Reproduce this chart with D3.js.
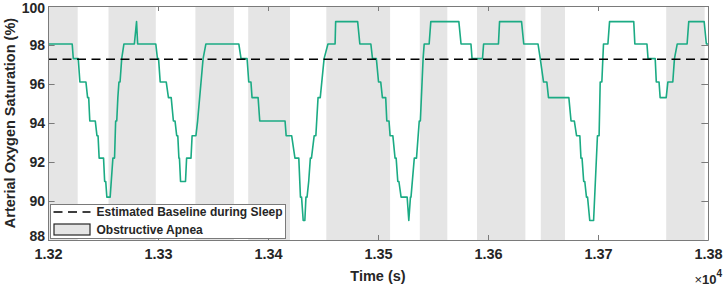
<!DOCTYPE html>
<html>
<head>
<meta charset="utf-8">
<script src="https://cdn.jsdelivr.net/npm/d3@7"></script>
<style>
  html, body { margin: 0; padding: 0; background: #fff; }
  svg text { font-family: "Liberation Sans", Arial, sans-serif; font-weight: bold; fill: #262626; }
</style>
</head>
<body>
<div id="chart"></div>
<script>
// SpO2 trace (time in s, saturation in %)
const spo2Time = [
  13200, 13222, 13223, 13227.5, 13229, 13234.5, 13236, 13237, 13238, 13243,
  13244.5, 13245.5, 13246.5, 13250.5, 13251.5, 13252.5, 13253.5, 13256.5, 13259, 13260.5,
  13261.5, 13262.5, 13263.5, 13264.5, 13265.5, 13267, 13269, 13278.5, 13280.5, 13281.5,
  13298, 13299.5, 13300.5, 13302, 13307.5, 13309.5, 13312, 13314, 13315.5, 13317,
  13318, 13319, 13319.5, 13320.5, 13325, 13326, 13330, 13331, 13334.5, 13336,
  13341, 13343.5, 13373.5, 13375.5, 13381, 13382.5, 13384.5, 13385.5, 13391, 13392.5,
  13415.5, 13416.5, 13421.5, 13424.5, 13428, 13429.5, 13430.5, 13432, 13433.5, 13434.5,
  13435.5, 13437, 13438.5, 13439.5, 13442, 13443.5, 13445.5, 13447.5, 13451, 13454.5,
  13461, 13461.5, 13481.5, 13483.5, 13493.5, 13495, 13498.5, 13500.5, 13502.5, 13504,
  13507, 13508, 13510, 13511, 13513.5, 13515.5, 13516.5, 13518, 13519, 13521,
  13526.5, 13528, 13529.5, 13530, 13533, 13535, 13537.5, 13538.5, 13541, 13542,
  13546.5, 13548, 13573.5, 13575.5, 13584.5, 13585.5, 13595, 13596, 13609.5, 13610.5,
  13630.5, 13632.5, 13645.5, 13647.5, 13650.5, 13653.5, 13655, 13673.5, 13675.5, 13678.5,
  13680.5, 13683.5, 13684.5, 13685.5, 13687, 13688, 13689.5, 13690.5, 13692.5, 13696,
  13699.5, 13701, 13702, 13703.5, 13705, 13709, 13710.5, 13732.5, 13733.5, 13744.5,
  13745.5, 13752, 13753, 13755.5, 13756.5, 13762, 13763.5, 13768, 13769.5, 13772,
  13781, 13782.5, 13796.5, 13798.5, 13800
]
const spo2Value = [
  98.05, 98.05, 97.3, 97.3, 96.1, 96.1, 95.3, 95.3, 94.1, 94.1,
  93.35, 93.35, 92.2, 92.2, 91.0, 91.0, 90.2, 90.2, 92.2, 92.2,
  94.1, 94.1, 95.3, 96.1, 96.1, 97.3, 98.05, 98.05, 99.2, 98.05,
  98.05, 97.3, 97.3, 96.1, 96.1, 95.3, 95.3, 94.1, 94.1, 93.35,
  93.35, 92.2, 92.2, 91.0, 91.0, 92.2, 92.2, 93.35, 93.35, 94.1,
  97.3, 98.05, 98.05, 97.3, 97.3, 96.1, 96.1, 95.3, 95.3, 94.1,
  94.1, 93.35, 93.35, 92.2, 92.2, 90.2, 90.2, 89.0, 89.0, 90.2,
  90.2, 91.0, 92.2, 92.2, 93.35, 93.35, 95.3, 95.3, 97.3, 98.05,
  98.05, 99.2, 99.2, 98.05, 98.05, 97.3, 97.3, 96.1, 96.1, 95.3,
  95.3, 94.1, 94.1, 93.35, 93.35, 92.2, 92.2, 91.0, 91.0, 90.2,
  90.2, 89.0, 90.2, 90.2, 92.2, 92.2, 94.1, 94.1, 97.3, 98.05,
  98.05, 99.2, 99.2, 98.05, 98.05, 97.3, 97.3, 98.05, 98.05, 99.2,
  99.2, 98.05, 98.05, 97.3, 96.1, 96.1, 95.3, 95.3, 94.1, 94.1,
  93.35, 93.35, 92.2, 92.2, 91.0, 91.0, 90.2, 90.2, 89.0, 89.0,
  93.35, 93.35, 96.1, 96.1, 98.05, 98.05, 99.2, 99.2, 98.05, 98.05,
  97.3, 97.3, 96.1, 96.1, 95.3, 95.3, 96.1, 96.1, 97.3, 98.05,
  98.05, 99.2, 99.2, 98.05, 98.05
]

// obstructive apnea events [start, end] in s
const apneaStart = [13200, 13255, 13334, 13382, 13453, 13538, 13590, 13648, 13762]
const apneaEnd = [13227, 13298, 13369, 13420, 13511, 13563, 13634, 13670, 13797]

const baseline = 97.27

const xTicks = [13200, 13300, 13400, 13500, 13600, 13700, 13800]
const yTicks = [88, 90, 92, 94, 96, 98, 100]

const legendLabels = ['Estimated Baseline during Sleep', 'Obstructive Apnea']

const W = 724
const H = 286
const margin = { left: 48, right: 16, top: 6, bottom: 46 }
const axisColor = '#7a7a7a'
const lineColor = '#1bab84'
const apneaColor = '#e5e5e5'

const svg = d3
  .select('#chart')
  .append('svg')
  .attr('width', W)
  .attr('height', H)
  .attr('viewBox', [0, 0, W, H])

const x = d3
  .scaleLinear()
  .domain([13200, 13800])
  .range([margin.left, W - margin.right])

const y = d3
  .scaleLinear()
  .domain([88, 100])
  .range([H - margin.bottom, margin.top])

const apnea = apneaStart.map((s, i) => ({ start: s, end: apneaEnd[i] }))
const trace = spo2Time.map((t, i) => ({ t, v: spo2Value[i] }))

// shaded apnea events
svg
  .append('g')
  .selectAll('rect')
  .data(apnea)
  .join('rect')
  .attr('x', (d) => x(d.start))
  .attr('width', (d) => x(d.end) - x(d.start))
  .attr('y', y(100))
  .attr('height', y(88) - y(100))
  .attr('fill', apneaColor)

// SpO2 line
svg
  .append('path')
  .datum(trace)
  .attr('fill', 'none')
  .attr('stroke', lineColor)
  .attr('stroke-width', 1.6)
  .attr('stroke-linejoin', 'round')
  .attr(
    'd',
    d3
      .line()
      .x((d) => x(d.t))
      .y((d) => y(d.v))
  )

// baseline
svg
  .append('line')
  .attr('x1', x(13200))
  .attr('x2', x(13800))
  .attr('y1', y(baseline))
  .attr('y2', y(baseline))
  .attr('stroke', '#000')
  .attr('stroke-width', 1.6)
  .attr('stroke-dasharray', '9,5.5')

// axes (box with inward ticks on all sides)
const styleAxis = (g) => {
  g.select('.domain').attr('stroke', axisColor)
  g.selectAll('.tick line').attr('stroke', axisColor)
}

svg
  .append('g')
  .attr('transform', `translate(0,${y(88)})`)
  .call(
    d3
      .axisBottom(x)
      .tickValues(xTicks)
      .tickSize(-5)
      .tickSizeOuter(0)
      .tickPadding(9)
      .tickFormat((d) => (d / 1e4).toFixed(2))
  )
  .call(styleAxis)
  .call((g) => g.selectAll('text').attr('font-size', 14.5).attr('dy', '0.71em'))

svg
  .append('g')
  .attr('transform', `translate(0,${y(100)})`)
  .call(d3.axisTop(x).tickValues(xTicks).tickSize(-5).tickSizeOuter(0).tickFormat(''))
  .call(styleAxis)

// end labels sit a little inside the axis, as in the original figure
svg
  .append('g')
  .attr('transform', `translate(${x(13200)},0)`)
  .call(d3.axisLeft(y).tickValues(yTicks).tickSize(-6.6).tickSizeOuter(0).tickPadding(3))
  .call(styleAxis)
  .call((g) =>
    g
      .selectAll('text')
      .attr('font-size', 14)
      .attr('dy', (d) => (d === 88 ? '0.05em' : d === 100 ? '0.45em' : '0.35em'))
  )

svg
  .append('g')
  .attr('transform', `translate(${x(13800)},0)`)
  .call(d3.axisRight(y).tickValues(yTicks).tickSize(-6.6).tickSizeOuter(0).tickFormat(''))
  .call(styleAxis)

// axis labels
svg
  .append('text')
  .attr('x', (x(13200) + x(13800)) / 2)
  .attr('y', 281)
  .attr('text-anchor', 'middle')
  .attr('font-size', 14.5)
  .text('Time (s)')

svg
  .append('text')
  .attr('transform', `translate(15,${(y(88) + y(100)) / 2}) rotate(-90)`)
  .attr('text-anchor', 'middle')
  .attr('font-size', 14.5)
  .text('Arterial Oxygen Saturation (%)')

const expo = svg.append('text').attr('x', 722).attr('y', 284).attr('text-anchor', 'end')
expo.append('tspan').attr('font-size', 13).attr('font-weight', 'normal').text('\u00d7')
expo.append('tspan').attr('font-size', 13).text('10')
expo.append('tspan').attr('font-size', 10).attr('dy', -7).text('4')

// legend
const legend = svg.append('g').attr('transform', 'translate(50.5,204.5)')
legend
  .append('rect')
  .attr('width', 235)
  .attr('height', 34)
  .attr('fill', '#fff')
  .attr('stroke', axisColor)

const rows = legend
  .selectAll('g.row')
  .data(legendLabels)
  .join('g')
  .attr('class', 'row')
  .attr('transform', (d, i) => `translate(0,${7.5 + i * 17.5})`)

rows
  .filter((d, i) => i === 0)
  .append('line')
  .attr('x1', 3)
  .attr('x2', 40)
  .attr('stroke', '#000')
  .attr('stroke-width', 1.6)
  .attr('stroke-dasharray', '9,5.5')

rows
  .filter((d, i) => i === 1)
  .append('rect')
  .attr('x', 3.5)
  .attr('y', -5.5)
  .attr('width', 36)
  .attr('height', 11)
  .attr('fill', apneaColor)
  .attr('stroke', '#262626')
  .attr('stroke-width', 1.2)

rows
  .append('text')
  .attr('x', 46)
  .attr('dy', '0.35em')
  .attr('font-size', 12)
  .text((d) => d)
</script>
</body>
</html>
